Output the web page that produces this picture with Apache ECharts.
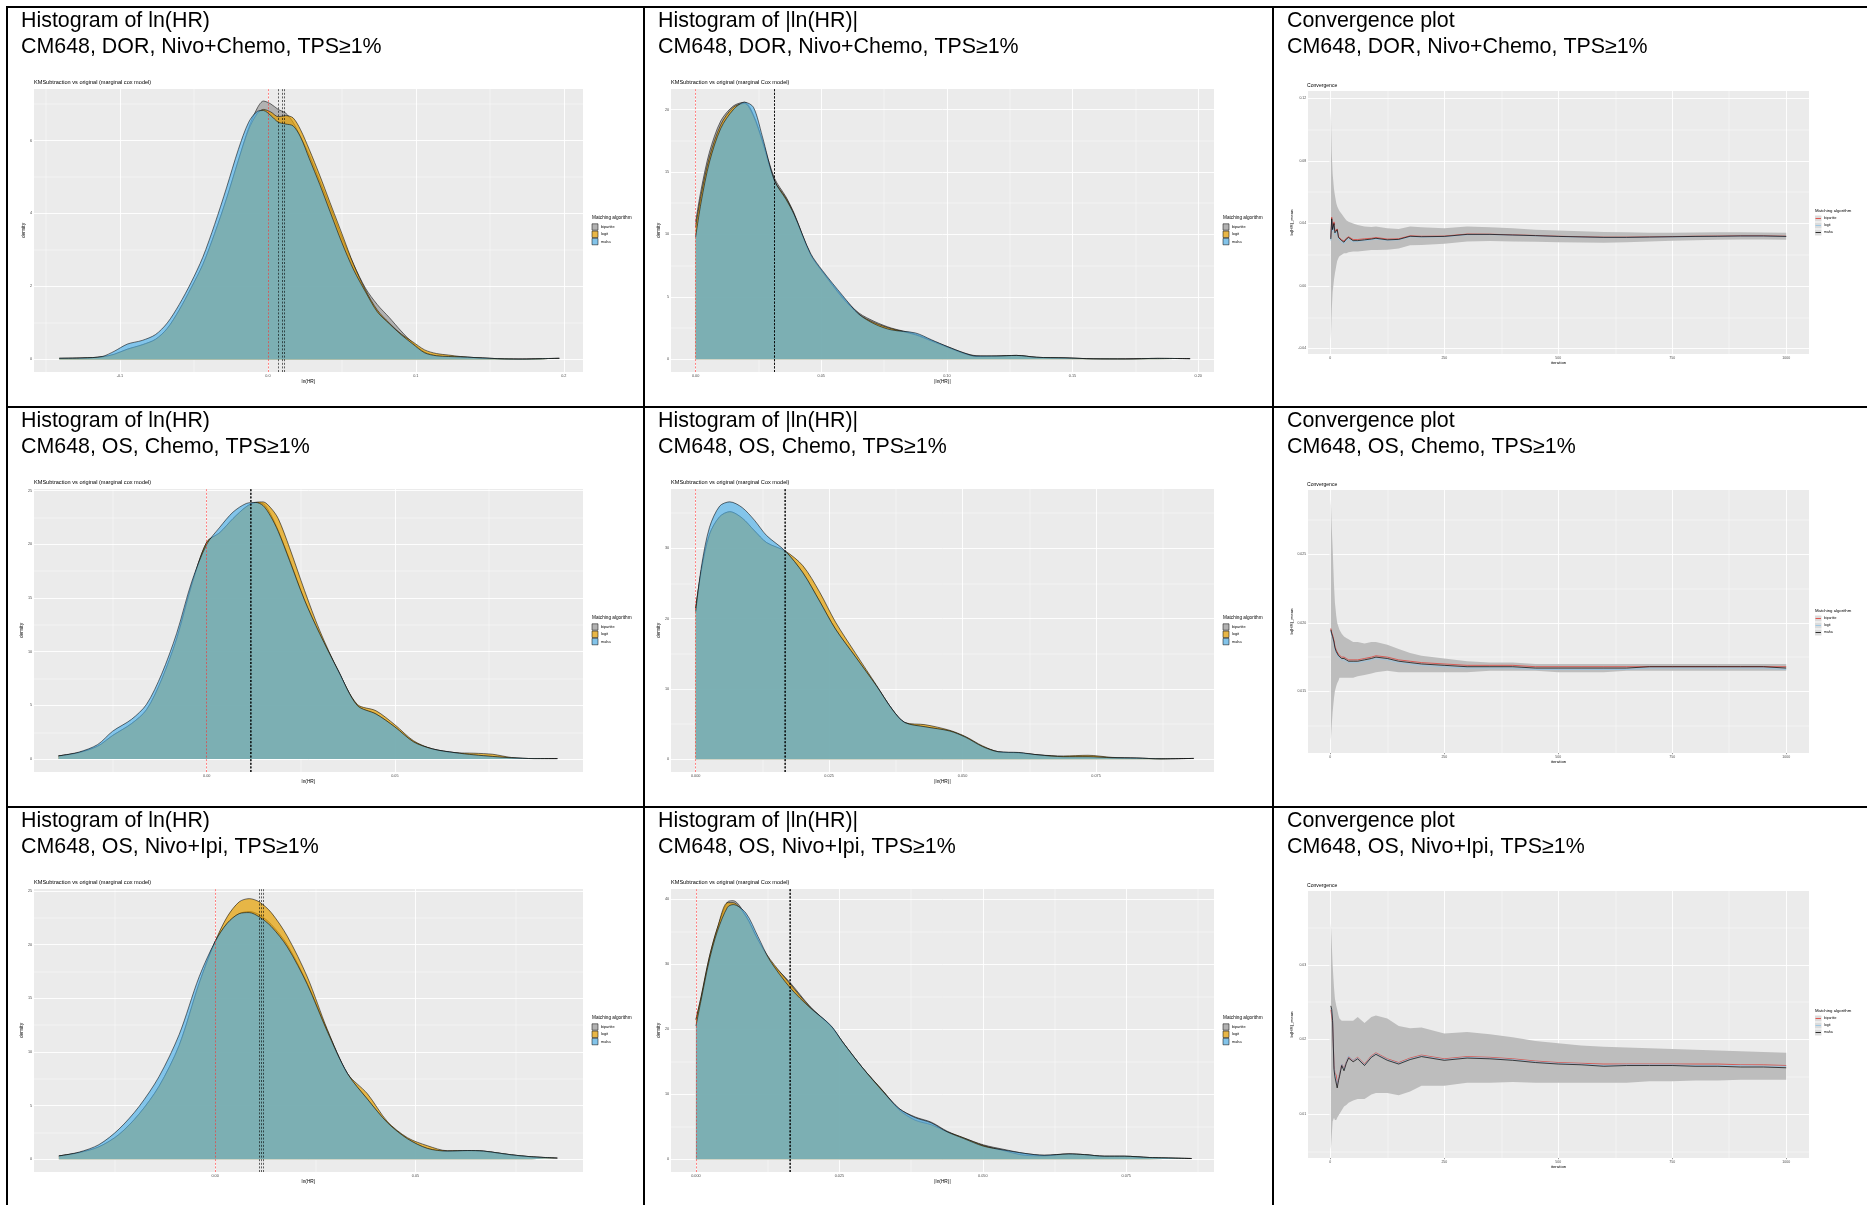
<!DOCTYPE html>
<html>
<head>
<meta charset="utf-8">
<script src="https://cdn.jsdelivr.net/npm/echarts@6/dist/echarts.min.js"></script>
<style>
html, body { margin: 0; padding: 0; background: #ffffff; }
#chart { width: 1867px; height: 1205px; }
</style>
</head>
<body>
<div id="chart"></div>
<script>
// ---------------------------------------------------------------------------
// Panel titles
// ---------------------------------------------------------------------------
const plotHeadings = ['Histogram of ln(HR)', 'Histogram of |ln(HR)|', 'Convergence plot'];
const studyLabels = ['CM648, DOR, Nivo+Chemo, TPS\u22651%', 'CM648, OS, Chemo, TPS\u22651%', 'CM648, OS, Nivo+Ipi, TPS\u22651%'];
const algorithms = ['bipartite', 'logit', 'maha'];

// ---------------------------------------------------------------------------
// Density estimates: DOR, Nivo+Chemo, ln(HR)
// ---------------------------------------------------------------------------
const dorLnX = [-0.141,-0.125,-0.112,-0.104,-0.095,-0.085,-0.076,-0.068,-0.060,-0.052,-0.044,-0.036,-0.028,-0.020,-0.013,-0.007,-0.003,0.002,0.007,0.012,0.017,0.022,0.028,0.035,0.042,0.050,0.058,0.066,0.074,0.082,0.090,0.098,0.106,0.114,0.122,0.130,0.140,0.150,0.160,0.172,0.184,0.197];
const dorLnBip = [0.03,0.04,0.07,0.14,0.28,0.40,0.55,0.85,1.35,1.95,2.6,3.45,4.4,5.45,6.35,6.9,7.08,7.0,6.85,6.75,6.5,6.1,5.6,4.9,4.2,3.35,2.6,1.95,1.5,1.15,0.78,0.45,0.2,0.1,0.08,0.07,0.05,0.03,0.015,0.01,0.02,0.03];
const dorLnLogit = [0.03,0.04,0.07,0.14,0.28,0.40,0.55,0.85,1.35,1.95,2.6,3.45,4.4,5.45,6.3,6.75,6.85,6.78,6.65,6.68,6.62,6.3,5.75,5.05,4.3,3.45,2.6,1.9,1.35,1.0,0.7,0.48,0.26,0.16,0.12,0.08,0.05,0.03,0.015,0.01,0.02,0.03];
const dorLnMaha = [0.03,0.04,0.08,0.22,0.42,0.52,0.68,1.0,1.5,2.1,2.8,3.7,4.7,5.75,6.5,6.8,6.82,6.68,6.5,6.45,6.4,6.1,5.5,4.8,4.05,3.2,2.45,1.85,1.3,0.98,0.68,0.42,0.18,0.1,0.08,0.07,0.05,0.03,0.015,0.01,0.02,0.03];
const dorLnMeans = [0.0070, 0.0095, 0.0111];

// DOR, Nivo+Chemo, |ln(HR)|
const dorAbsX = [0.0000,0.0022,0.0055,0.0100,0.0150,0.0195,0.0230,0.0265,0.0314,0.0360,0.0392,0.0457,0.0505,0.0585,0.0650,0.0714,0.0778,0.0875,0.0939,0.1003,0.1068,0.1116,0.1196,0.1277,0.1357,0.1470,0.1582,0.1710,0.1839,0.1968];
const dorAbsBip = [11.0,13.6,16.6,19.1,20.3,20.6,19.6,17.6,14.5,13.0,11.7,8.4,7.0,5.0,3.7,3.0,2.5,2.0,1.5,1.0,0.5,0.28,0.25,0.3,0.15,0.1,0.03,0.02,0.06,0.04];
const dorAbsLogit = [10.6,13.2,16.2,18.8,20.2,20.5,19.5,17.5,14.3,12.9,11.6,8.4,7.0,4.9,3.6,2.9,2.45,1.95,1.45,0.95,0.45,0.22,0.25,0.3,0.15,0.1,0.03,0.02,0.06,0.04];
const dorAbsMaha = [9.8,12.6,15.8,18.5,20.0,20.6,20.2,17.9,14.3,12.8,11.6,8.5,7.1,5.1,3.6,2.8,2.35,2.1,1.55,1.0,0.5,0.25,0.25,0.3,0.15,0.1,0.03,0.02,0.06,0.04];
const dorAbsMeans = [0.0312, 0.0313, 0.0314];

// OS, Chemo, ln(HR)
const chemoLnX = [-0.0394,-0.0340,-0.0290,-0.0250,-0.0200,-0.0160,-0.0120,-0.0080,-0.0040,0.0000,0.0035,0.0070,0.0105,0.0130,0.0150,0.0170,0.0190,0.0220,0.0260,0.0300,0.0350,0.0400,0.0450,0.0500,0.0550,0.0600,0.0660,0.0710,0.0760,0.0810,0.0870,0.0932];
const chemoLnBip = [0.3,0.6,1.2,2.2,3.3,4.6,7.4,11.2,16.2,20.2,21.1,22.4,23.5,23.9,23.8,22.8,21.3,18.6,14.8,11.7,8.2,5.0,4.2,3.0,1.6,0.95,0.6,0.4,0.25,0.12,0.05,0.05];
const chemoLnLogit = [0.3,0.6,1.2,2.2,3.3,4.6,7.4,11.2,16.2,20.2,21.1,22.4,23.5,23.9,23.95,23.4,22.4,19.7,15.7,12.0,8.2,5.1,4.5,3.2,1.7,0.95,0.6,0.55,0.45,0.15,0.05,0.05];
const chemoLnMaha = [0.3,0.65,1.35,2.6,3.7,5.1,7.9,11.7,16.5,20.0,21.6,23.0,23.8,23.9,23.6,22.6,21.2,18.5,14.8,11.7,8.2,5.0,4.2,3.0,1.6,0.95,0.6,0.4,0.25,0.12,0.05,0.05];
const chemoLnMeans = [0.0115, 0.0117, 0.0119];

// OS, Chemo, |ln(HR)|
const chemoAbsX = [0.0000,0.0011,0.0026,0.0045,0.0064,0.0087,0.0110,0.0133,0.0168,0.0201,0.0232,0.0262,0.0300,0.0338,0.0369,0.0392,0.0430,0.0476,0.0506,0.0537,0.0567,0.0605,0.0643,0.0689,0.0735,0.0780,0.0826,0.0872,0.0933];
const chemoAbsBip = [21.5,27.0,32.0,34.5,35.2,34.3,32.5,30.8,29.5,26.5,22.5,18.5,14.5,10.5,7.0,5.2,4.6,4.0,3.1,1.8,1.05,0.9,0.6,0.35,0.35,0.2,0.15,0.05,0.1];
const chemoAbsLogit = [21.5,27.0,32.0,34.5,35.2,34.3,32.5,30.8,29.6,27.5,23.8,19.5,15.0,10.6,7.0,5.2,4.9,4.1,3.2,1.9,1.05,0.9,0.6,0.45,0.55,0.25,0.15,0.05,0.1];
const chemoAbsMaha = [21.0,27.5,33.0,36.0,36.6,35.8,34.0,31.8,29.6,26.5,22.5,18.5,14.5,10.5,7.0,5.2,4.6,4.0,3.1,1.8,1.05,0.95,0.6,0.35,0.35,0.2,0.15,0.05,0.1];
const chemoAbsMeans = [0.0166, 0.0167, 0.0168];

// OS, Nivo+Ipi, ln(HR)
const ipiLnX = [-0.0390,-0.0340,-0.0290,-0.0240,-0.0190,-0.0140,-0.0090,-0.0040,0.0000,0.0030,0.0060,0.0085,0.0110,0.0140,0.0180,0.0230,0.0280,0.0330,0.0380,0.0430,0.0480,0.0530,0.0580,0.0630,0.0670,0.0740,0.0790,0.0854];
const ipiLnBip = [0.3,0.6,1.15,2.3,4.2,6.8,10.6,16.4,20.3,22.0,22.9,23.1,22.8,21.9,20.0,16.4,12.0,8.0,5.6,3.4,1.9,1.0,0.75,0.8,0.75,0.4,0.22,0.1];
const ipiLnLogit = [0.3,0.6,1.15,2.3,4.2,6.8,10.6,16.4,20.3,22.6,24.0,24.3,24.0,23.0,20.8,17.0,12.1,8.0,6.1,3.5,2.0,1.25,0.78,0.8,0.75,0.4,0.22,0.1];
const ipiLnMaha = [0.3,0.65,1.35,2.8,4.9,7.7,11.6,17.0,20.3,22.0,22.9,23.0,22.6,21.7,19.8,16.3,11.9,8.0,5.6,3.4,1.9,1.0,0.75,0.8,0.75,0.4,0.22,0.1];
const ipiLnMeans = [0.0110, 0.0115, 0.0120];

// OS, Nivo+Ipi, |ln(HR)|
const ipiAbsX = [0.0000,0.0009,0.0023,0.0037,0.0055,0.0065,0.0087,0.0108,0.0129,0.0164,0.0199,0.0235,0.0256,0.0291,0.0326,0.0354,0.0382,0.0410,0.0438,0.0466,0.0501,0.0537,0.0572,0.0607,0.0650,0.0677,0.0712,0.0747,0.0791,0.0864];
const ipiAbsBip = [21.5,25.0,31.0,35.5,39.6,39.8,37.5,33.8,30.5,27.2,23.5,20.5,18.0,14.0,10.5,7.8,6.5,5.7,4.3,3.3,2.2,1.5,0.9,0.6,0.8,0.7,0.45,0.45,0.25,0.1];
const ipiAbsLogit = [21.5,25.0,31.0,35.5,39.5,39.5,37.4,33.8,30.8,27.0,23.4,20.5,18.0,14.0,10.5,7.6,6.0,5.3,4.2,3.3,2.1,1.3,0.6,0.5,0.8,0.7,0.45,0.45,0.25,0.1];
const ipiAbsMaha = [20.5,24.5,30.5,35.0,38.8,39.2,37.9,34.3,30.6,26.4,23.3,20.6,18.0,14.0,10.4,7.8,6.4,5.6,4.2,3.2,2.0,1.4,0.9,0.6,0.8,0.7,0.45,0.45,0.25,0.1];
const ipiAbsMeans = [0.0163, 0.0164, 0.0165];

// ---------------------------------------------------------------------------
// Running means of |ln(HR)| over iterations, with their uncertainty band
// ---------------------------------------------------------------------------
const convIter = [1,3,5,8,10,13,15,18,20,25,30,35,40,50,60,75,90,100,125,150,175,200,250,300,350,400,450,500,550,600,650,700,750,800,850,900,950,1000];

const dorConvBip = [0.031,0.044,0.037,0.041,0.035,0.0355,0.0365,0.0315,0.0325,0.0295,0.0287,0.0305,0.0315,0.0297,0.0297,0.0302,0.0305,0.031,0.030,0.0302,0.0321,0.0318,0.0319,0.0332,0.0331,0.0327,0.0323,0.0318,0.0315,0.0312,0.0312,0.0314,0.0316,0.0318,0.0319,0.0321,0.0321,0.0318];
const dorConvLogit = [0.029,0.042,0.035,0.039,0.033,0.034,0.035,0.030,0.031,0.028,0.027,0.029,0.030,0.0283,0.0285,0.029,0.0295,0.030,0.0292,0.0295,0.0315,0.0313,0.0315,0.0328,0.0329,0.0325,0.0321,0.0316,0.0313,0.0310,0.0310,0.0312,0.0314,0.0316,0.0317,0.0319,0.0319,0.0316];
const dorConvMaha = [0.030,0.043,0.036,0.040,0.034,0.035,0.036,0.031,0.032,0.029,0.028,0.030,0.031,0.029,0.029,0.0295,0.030,0.0305,0.0295,0.0298,0.0318,0.0315,0.0317,0.0330,0.0330,0.0326,0.0322,0.0317,0.0314,0.0311,0.0311,0.0313,0.0315,0.0317,0.0318,0.0320,0.0320,0.0317];
const dorConvUpper = [0.112,0.086,0.072,0.062,0.058,0.053,0.051,0.049,0.048,0.046,0.044,0.042,0.041,0.040,0.039,0.038,0.0378,0.038,0.037,0.0365,0.038,0.0375,0.037,0.038,0.0375,0.037,0.036,0.0355,0.035,0.0345,0.0343,0.034,0.0341,0.0342,0.0343,0.0343,0.0342,0.034];
const dorConvLower = [-0.035,-0.016,-0.004,0.004,0.008,0.013,0.016,0.018,0.019,0.020,0.021,0.021,0.0215,0.022,0.022,0.0225,0.023,0.023,0.0232,0.024,0.026,0.0262,0.027,0.0285,0.0287,0.0285,0.0283,0.028,0.0278,0.0277,0.028,0.0285,0.029,0.0293,0.0295,0.0297,0.0297,0.0295];

const chemoConvBip = [0.0196,0.0193,0.0191,0.0187,0.0183,0.0180,0.0179,0.0177,0.0176,0.0175,0.0175,0.0174,0.0173,0.0173,0.0173,0.0174,0.0175,0.0176,0.0175,0.0173,0.0172,0.0171,0.0170,0.0169,0.0169,0.0169,0.0168,0.0168,0.0168,0.0168,0.0168,0.0168,0.0168,0.0168,0.0168,0.0168,0.0168,0.0168];
const chemoConvLogit = [0.0194,0.0191,0.0189,0.0185,0.0181,0.0178,0.0177,0.0175,0.0174,0.0173,0.0173,0.0172,0.0171,0.0171,0.0171,0.0172,0.0173,0.0174,0.0173,0.0171,0.0170,0.0169,0.0168,0.0167,0.0167,0.0167,0.0166,0.0166,0.0166,0.0166,0.0166,0.0167,0.0167,0.0167,0.0167,0.0167,0.0167,0.0166];
const chemoConvMaha = [0.0195,0.0192,0.0190,0.0186,0.0182,0.0179,0.0178,0.0176,0.0175,0.0174,0.0174,0.0173,0.0172,0.0172,0.0172,0.0173,0.0174,0.0175,0.0174,0.0172,0.0171,0.0170,0.0169,0.0168,0.0168,0.0168,0.0167,0.0167,0.0167,0.0167,0.0167,0.0168,0.0168,0.0168,0.0168,0.0168,0.0168,0.0167];
const chemoConvUpper = [0.0290,0.0270,0.0255,0.0228,0.0215,0.0205,0.0200,0.0197,0.0195,0.0192,0.0190,0.0189,0.0188,0.0186,0.0186,0.0185,0.0186,0.0186,0.0184,0.0181,0.0178,0.0176,0.0174,0.0172,0.0171,0.0171,0.0170,0.0170,0.0170,0.0170,0.0170,0.0170,0.0170,0.0170,0.0170,0.0170,0.0170,0.0170];
const chemoConvLower = [0.0114,0.0125,0.0135,0.0145,0.0150,0.0154,0.0156,0.0158,0.0160,0.0160,0.0160,0.0160,0.0160,0.0160,0.0161,0.0162,0.0163,0.0164,0.0165,0.0164,0.0164,0.0164,0.0164,0.0164,0.0165,0.0165,0.0165,0.0164,0.0164,0.0164,0.0165,0.0165,0.0165,0.0165,0.0165,0.0165,0.0165,0.0165];

const ipiConvBip = [0.0240,0.0238,0.0222,0.0165,0.0155,0.0152,0.0140,0.0148,0.0153,0.0167,0.0161,0.0170,0.0177,0.0172,0.0176,0.0167,0.0178,0.0182,0.0174,0.0169,0.0175,0.0179,0.0174,0.0177,0.0176,0.0174,0.0171,0.0169,0.0168,0.0167,0.0167,0.0167,0.0167,0.0167,0.0167,0.0166,0.0166,0.0165];
const ipiConvLogit = [0.0242,0.0239,0.0224,0.0163,0.0153,0.0152,0.0140,0.0148,0.0152,0.0167,0.0160,0.0170,0.0178,0.0172,0.0175,0.0166,0.0177,0.0181,0.0173,0.0168,0.0174,0.0178,0.0173,0.0176,0.0175,0.0173,0.0170,0.0168,0.0167,0.0165,0.0166,0.0166,0.0166,0.0165,0.0165,0.0165,0.0164,0.0164];
const ipiConvMaha = [0.0245,0.0240,0.0225,0.0160,0.0150,0.0148,0.0135,0.0145,0.0150,0.0165,0.0158,0.0168,0.0175,0.0170,0.0174,0.0165,0.0176,0.0180,0.0172,0.0167,0.0173,0.0177,0.0172,0.0175,0.0174,0.0172,0.0169,0.0167,0.0166,0.0164,0.0165,0.0165,0.0165,0.0164,0.0164,0.0163,0.0163,0.0162];
const ipiConvUpper = [0.0356,0.0330,0.0300,0.0270,0.0255,0.0245,0.0240,0.0232,0.0228,0.0225,0.0225,0.0225,0.0225,0.0225,0.0230,0.0222,0.0230,0.0232,0.0228,0.0218,0.0215,0.0216,0.0208,0.0210,0.0207,0.0203,0.0198,0.0195,0.0192,0.0190,0.0189,0.0188,0.0187,0.0186,0.0185,0.0184,0.0183,0.0182];
const ipiConvLower = [0.0052,0.0070,0.0090,0.0095,0.0092,0.0092,0.0095,0.0098,0.0100,0.0105,0.0110,0.0112,0.0115,0.0118,0.0120,0.0120,0.0126,0.0128,0.0128,0.0125,0.0130,0.0138,0.0138,0.0142,0.0142,0.0143,0.0142,0.0142,0.0142,0.0142,0.0142,0.0144,0.0144,0.0145,0.0145,0.0146,0.0146,0.0146];

// ---------------------------------------------------------------------------
// Axis breaks and their printed labels
// ---------------------------------------------------------------------------
const lnDorXTicks = [-0.1, 0, 0.1, 0.2];
const lnDorXLabels = ['-0.1', '0.0', '0.1', '0.2'];
const lnDorXMinor = [-0.15, -0.05, 0.05, 0.15];
const lnDorYTicks = [0, 2, 4, 6];
const lnDorYLabels = ['0', '2', '4', '6'];
const lnDorYMinor = [1, 3, 5, 7];

const absDorXTicks = [0, 0.05, 0.1, 0.15, 0.2];
const absDorXLabels = ['0.00', '0.05', '0.10', '0.15', '0.20'];
const absDorXMinor = [0.025, 0.075, 0.125, 0.175];
const absDorYTicks = [0, 5, 10, 15, 20];
const absDorYLabels = ['0', '5', '10', '15', '20'];
const absDorYMinor = [2.5, 7.5, 12.5, 17.5];

const lnOsXTicks = [0, 0.05];
const lnOsXLabels = ['0.00', '0.05'];
const lnOsXMinor = [-0.025, 0.025, 0.075];
const lnOsYTicks = [0, 5, 10, 15, 20, 25];
const lnOsYLabels = ['0', '5', '10', '15', '20', '25'];
const lnOsYMinor = [2.5, 7.5, 12.5, 17.5, 22.5];

const absOsXTicks = [0, 0.025, 0.05, 0.075];
const absOsXLabels = ['0.000', '0.025', '0.050', '0.075'];
const absOsXMinor = [0.0125, 0.0375, 0.0625, 0.0875];
const absChemoYTicks = [0, 10, 20, 30];
const absChemoYLabels = ['0', '10', '20', '30'];
const absIpiYTicks = [0, 10, 20, 30, 40];
const absIpiYLabels = ['0', '10', '20', '30', '40'];
const absOsYMinor = [5, 15, 25, 35];

const iterTicks = [0, 250, 500, 750, 1000];
const iterLabels = ['0', '250', '500', '750', '1000'];
const iterMinor = [125, 375, 625, 875];
const convDorYTicks = [-0.04, 0, 0.04, 0.08, 0.12];
const convDorYLabels = ['-0.04', '0.00', '0.04', '0.08', '0.12'];
const convDorYMinor = [-0.02, 0.02, 0.06, 0.10];
const convChemoYTicks = [0.015, 0.02, 0.025];
const convChemoYLabels = ['0.015', '0.020', '0.025'];
const convChemoYMinor = [0.0125, 0.0175, 0.0225, 0.0275];
const convIpiYTicks = [0.01, 0.02, 0.03];
const convIpiYLabels = ['0.01', '0.02', '0.03'];
const convIpiYMinor = [0.005, 0.015, 0.025, 0.035];

// ---------------------------------------------------------------------------
// Page layout
// ---------------------------------------------------------------------------
const FONT = '"Liberation Sans", Arial, Helvetica, sans-serif';
const COL_X = [7, 644, 1273];
const ROW_Y = [7, 407, 807];
const DENS_FILL = { bipartite: '#999999', logit: '#E69F00', maha: '#56B4E9' };
const KEY_FILL = { bipartite: '#B2B2B2', logit: '#E8B647', maha: '#83C4EA' };
const CONV_LINE = { bipartite: '#E3342B', logit: '#8FC4E6', maha: '#000000' };

const subCox = 'KMSubtraction vs original (marginal cox model)';
const subCoxCap = 'KMSubtraction vs original (marginal Cox model)';

const densityPanels = [
  { row: 0, col: 0, box: [34, 89, 549, 283], xRange: [-0.1581, 0.2130], yRange: [-0.345, 7.41],
    x: dorLnX, ys: [dorLnBip, dorLnLogit, dorLnMaha], means: dorLnMeans,
    xTicks: lnDorXTicks, xLabels: lnDorXLabels, xMinor: lnDorXMinor,
    yTicks: lnDorYTicks, yLabels: lnDorYLabels, yMinor: lnDorYMinor, xName: 'ln(HR)', sub: subCox },
  { row: 0, col: 1, box: [671, 89, 543, 283], xRange: [-0.0098, 0.2063], yRange: [-1.03, 21.66],
    x: dorAbsX, ys: [dorAbsBip, dorAbsLogit, dorAbsMaha], means: dorAbsMeans,
    xTicks: absDorXTicks, xLabels: absDorXLabels, xMinor: absDorXMinor,
    yTicks: absDorYTicks, yLabels: absDorYLabels, yMinor: absDorYMinor, xName: '|ln(HR)|', sub: subCoxCap },
  { row: 1, col: 0, box: [34, 489, 549, 283], xRange: [-0.0459, 0.1000], yRange: [-1.2, 25.15],
    x: chemoLnX, ys: [chemoLnBip, chemoLnLogit, chemoLnMaha], means: chemoLnMeans,
    xTicks: lnOsXTicks, xLabels: lnOsXLabels, xMinor: lnOsXMinor,
    yTicks: lnOsYTicks, yLabels: lnOsYLabels, yMinor: lnOsYMinor, xName: 'ln(HR)', sub: subCox },
  { row: 1, col: 1, box: [671, 489, 543, 283], xRange: [-0.00462, 0.0971], yRange: [-1.83, 38.43],
    x: chemoAbsX, ys: [chemoAbsBip, chemoAbsLogit, chemoAbsMaha], means: chemoAbsMeans,
    xTicks: absOsXTicks, xLabels: absOsXLabels, xMinor: absOsXMinor,
    yTicks: absChemoYTicks, yLabels: absChemoYLabels, yMinor: absOsYMinor, xName: '|ln(HR)|', sub: subCoxCap },
  { row: 2, col: 0, box: [34, 889, 549, 283], xRange: [-0.0452, 0.0918], yRange: [-1.2, 25.2],
    x: ipiLnX, ys: [ipiLnBip, ipiLnLogit, ipiLnMaha], means: ipiLnMeans,
    xTicks: lnOsXTicks, xLabels: lnOsXLabels, xMinor: lnOsXMinor,
    yTicks: lnOsYTicks, yLabels: lnOsYLabels, yMinor: lnOsYMinor, xName: 'ln(HR)', sub: subCox },
  { row: 2, col: 1, box: [671, 889, 543, 283], xRange: [-0.00435, 0.0903], yRange: [-1.98, 41.6],
    x: ipiAbsX, ys: [ipiAbsBip, ipiAbsLogit, ipiAbsMaha], means: ipiAbsMeans,
    xTicks: absOsXTicks, xLabels: absOsXLabels, xMinor: absOsXMinor,
    yTicks: absIpiYTicks, yLabels: absIpiYLabels, yMinor: absOsYMinor, xName: '|ln(HR)|', sub: subCoxCap }
];

const convPanels = [
  { row: 0, col: 2, box: [1308, 91, 501, 263], xRange: [-49, 1050], yRange: [-0.0435, 0.1247],
    ys: [dorConvBip, dorConvLogit, dorConvMaha], upper: dorConvUpper, lower: dorConvLower,
    yTicks: convDorYTicks, yLabels: convDorYLabels, yMinor: convDorYMinor },
  { row: 1, col: 2, box: [1308, 490, 501, 263], xRange: [-49, 1050], yRange: [0.0105, 0.0297],
    ys: [chemoConvBip, chemoConvLogit, chemoConvMaha], upper: chemoConvUpper, lower: chemoConvLower,
    yTicks: convChemoYTicks, yLabels: convChemoYLabels, yMinor: convChemoYMinor },
  { row: 2, col: 2, box: [1308, 891, 501, 267], xRange: [-49, 1050], yRange: [0.0041, 0.0399],
    ys: [ipiConvBip, ipiConvLogit, ipiConvMaha], upper: ipiConvUpper, lower: ipiConvLower,
    yTicks: convIpiYTicks, yLabels: convIpiYLabels, yMinor: convIpiYMinor }
];

// ---------------------------------------------------------------------------
// Option assembly
// ---------------------------------------------------------------------------
const grids = [], xAxes = [], yAxes = [], series = [], graphics = [];

function labelFor(ticks, labels) {
  return function (v) {
    let k = 0, best = Infinity;
    ticks.forEach(function (t, j) { const d = Math.abs(t - v); if (d < best) { best = d; k = j; } });
    return labels[k];
  };
}

function addText(x, y, str, size, opt) {
  opt = opt || {};
  graphics.push({
    type: 'text', x: x, y: y, silent: true, z: 20,
    style: {
      text: str, fontSize: size, fontFamily: FONT, fill: opt.fill || '#000000',
      align: opt.align || 'left', verticalAlign: 'middle',
      textAlign: opt.align || 'left', textVerticalAlign: 'middle'
    }
  });
}

// vertical / horizontal rules placed at exact axis values (no rounding)
function ruleLayer(i, p, items, z) {
  return {
    type: 'line', name: 'rules', xAxisIndex: i, yAxisIndex: i,
    data: [[p.xRange[0], p.yRange[0]]], symbol: 'none', silent: true, z: z,
    lineStyle: { width: 0, opacity: 0 },
    markLine: { silent: true, z: z, precision: 12, symbol: ['none', 'none'], label: { show: false },
                emphasis: { disabled: true }, animation: false, data: items }
  };
}

function addAxes(i, p, s) {
  grids.push({ left: p.box[0], top: p.box[1], width: p.box[2], height: p.box[3],
               show: true, backgroundColor: '#EBEBEB', borderWidth: 0 });
  xAxes.push({
    type: 'value', gridIndex: i, min: p.xRange[0], max: p.xRange[1],
    name: p.xName, nameLocation: 'middle', nameGap: s.xNameGap,
    nameTextStyle: { fontFamily: FONT, fontSize: s.title, color: '#000000' },
    axisLine: { show: false }, splitLine: { show: false }, minorSplitLine: { show: false },
    axisTick: { show: true, customValues: p.xTicks, length: 1.2, lineStyle: { color: '#333333', width: 0.5 } },
    axisLabel: { show: true, customValues: p.xTicks, margin: 1.8, fontSize: s.tick, color: '#4D4D4D',
                 fontFamily: FONT, formatter: labelFor(p.xTicks, p.xLabels) }
  });
  yAxes.push({
    type: 'value', gridIndex: i, min: p.yRange[0], max: p.yRange[1],
    name: p.yName, nameLocation: 'middle', nameGap: s.yNameGap, nameRotate: 90,
    nameTextStyle: { fontFamily: FONT, fontSize: s.title, color: '#000000' },
    axisLine: { show: false }, splitLine: { show: false }, minorSplitLine: { show: false },
    axisTick: { show: true, customValues: p.yTicks, length: 1.2, lineStyle: { color: '#333333', width: 0.5 } },
    axisLabel: { show: true, customValues: p.yTicks, margin: 1.8, fontSize: s.tick, color: '#4D4D4D',
                 fontFamily: FONT, formatter: labelFor(p.yTicks, p.yLabels) }
  });
  // white panel grid: minor lines first, major lines on top
  const major = { color: '#FFFFFF', width: 0.9, type: 'solid' };
  const minor = { color: '#FFFFFF', width: 0.4, type: 'solid' };
  const items = [];
  p.xMinor.forEach(function (v) { items.push({ xAxis: v, lineStyle: minor }); });
  p.yMinor.forEach(function (v) { items.push({ yAxis: v, lineStyle: minor }); });
  p.xTicks.forEach(function (v) { items.push({ xAxis: v, lineStyle: major }); });
  p.yTicks.forEach(function (v) { items.push({ yAxis: v, lineStyle: major }); });
  series.push(ruleLayer(i, p, items, 1));
}

// density panels
densityPanels.forEach(function (p) {
  const i = grids.length;
  p.yName = 'density';
  addAxes(i, p, { title: 4.8, tick: 3.8, xNameGap: 5.5, yNameGap: 6 });
  algorithms.forEach(function (name, k) {
    const ys = p.ys[k];
    series.push({
      type: 'line', name: name, xAxisIndex: i, yAxisIndex: i,
      data: p.x.map(function (x, j) { return [x, ys[j]]; }),
      smooth: 0.3, symbol: 'none', silent: true, z: 2 + k * 0.01,
      lineStyle: { color: '#000000', width: 0.55 },
      areaStyle: { color: DENS_FILL[name], opacity: 0.7 }
    });
  });
  // reference line at zero and the three algorithm means
  const refs = [{ xAxis: 0, lineStyle: { color: '#FF2A2A', type: [2, 1.6], width: 0.6 } }];
  p.means.forEach(function (m) { refs.push({ xAxis: m, lineStyle: { color: '#000000', type: [2, 1.6], width: 0.6 } }); });
  series.push(ruleLayer(i, p, refs, 6));
  // panel caption
  addText(p.box[0], p.box[1] - 6.5, p.sub, 5.6);
  // legend
  const lx = p.box[0] + p.box[2] + 9;
  const ty = ROW_Y[p.row] + 211;
  addText(lx, ty, 'Matching algorithm', 4.7);
  algorithms.forEach(function (name, k) {
    const cy = ty + 9 + k * 7.3;
    graphics.push({ type: 'rect', silent: true, z: 20,
      shape: { x: lx, y: cy - 3.2, width: 6, height: 6.4 },
      style: { fill: KEY_FILL[name], stroke: '#000000', lineWidth: 0.5 } });
    addText(lx + 9, cy, name, 3.8);
  });
});

// convergence panels
convPanels.forEach(function (p) {
  const i = grids.length;
  p.xTicks = iterTicks; p.xLabels = iterLabels; p.xMinor = iterMinor;
  p.xName = 'iteration'; p.yName = 'ln(HR)_mean';
  addAxes(i, p, { title: 4.4, tick: 3.5, xNameGap: 5, yNameGap: 14 });
  const upper = p.upper, lower = p.lower;
  series.push({
    type: 'custom', name: 'band', xAxisIndex: i, yAxisIndex: i, silent: true, z: 2,
    data: convIter.map(function (t, j) { return [t, lower[j], upper[j]]; }),
    encode: { x: 0, y: [1, 2] },
    renderItem: function (params, api) {
      if (params.dataIndex !== 0) return null;
      const pts = [];
      for (let j = 0; j < convIter.length; j++) pts.push(api.coord([convIter[j], upper[j]]));
      for (let j = convIter.length - 1; j >= 0; j--) pts.push(api.coord([convIter[j], lower[j]]));
      return { type: 'polygon', shape: { points: pts }, style: { fill: '#BDBDBD' } };
    }
  });
  algorithms.forEach(function (name, k) {
    const ys = p.ys[k];
    series.push({
      type: 'line', name: name, xAxisIndex: i, yAxisIndex: i,
      data: convIter.map(function (t, j) { return [t, ys[j]]; }),
      symbol: 'none', silent: true, z: 3 + k * 0.01,
      lineStyle: { color: CONV_LINE[name], width: 0.7 }
    });
  });
  addText(p.box[0] - 1, p.box[1] - 5.5, 'Convergence', 5.1);
  const lx = p.box[0] + p.box[2] + 6;
  const ty = ROW_Y[p.row] + 204;
  addText(lx, ty, 'Matching algorithm', 4.3);
  algorithms.forEach(function (name, k) {
    const cy = ty + 7.5 + k * 7;
    graphics.push({ type: 'rect', silent: true, z: 20,
      shape: { x: lx, y: cy - 3, width: 6.5, height: 6 }, style: { fill: '#DCDCDC' } });
    graphics.push({ type: 'line', silent: true, z: 21,
      shape: { x1: lx + 0.5, y1: cy, x2: lx + 6, y2: cy },
      style: { stroke: CONV_LINE[name], lineWidth: 0.8 } });
    addText(lx + 9, cy, name, 3.5);
  });
});

// cell titles
for (let r = 0; r < 3; r++) {
  for (let c = 0; c < 3; c++) {
    addText(COL_X[c] + 14, ROW_Y[r] + 14.5, plotHeadings[c], 21.4);
    addText(COL_X[c] + 14, ROW_Y[r] + 40, studyLabels[r], 21.4);
  }
}

// table rules
COL_X.forEach(function (x) {
  graphics.push({ type: 'line', silent: true, z: 30,
    shape: { x1: x, y1: 6, x2: x, y2: 1205 }, style: { stroke: '#000000', lineWidth: 2 } });
});
ROW_Y.forEach(function (y) {
  graphics.push({ type: 'line', silent: true, z: 30,
    shape: { x1: 6, y1: y, x2: 1867, y2: y }, style: { stroke: '#000000', lineWidth: 2 } });
});

const chart = echarts.init(document.getElementById('chart'), null, { renderer: 'canvas', width: 1867, height: 1205 });
chart.setOption({
  animation: false,
  backgroundColor: '#FFFFFF',
  grid: grids,
  xAxis: xAxes,
  yAxis: yAxes,
  series: series,
  graphic: { elements: graphics }
});
</script>
</body>
</html>
